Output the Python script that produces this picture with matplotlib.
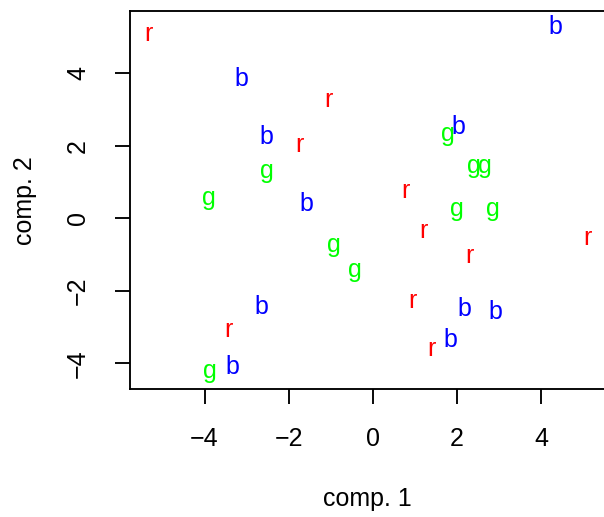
import matplotlib
matplotlib.use("Agg")
import matplotlib.pyplot as plt
import matplotlib.transforms as mtransforms

plt.rcParams['font.family'] = ['Liberation Sans', 'DejaVu Sans']

# data: label, x, y (centre of letter body)
r_x = [-5.33, -1.06, -1.74, 0.77, 1.19, 5.10, 2.30, 0.93, -3.44, 1.38]
r_y = [5.06, 3.25, 2.02, 0.73, -0.36, -0.56, -1.05, -2.29, -3.10, -3.62]
b_x = [4.34, -3.12, -2.52, 2.03, -1.58, -2.66, 2.17, 2.90, 1.83, -3.33]
b_y = [5.26, 3.83, 2.22, 2.50, 0.39, -2.46, -2.51, -2.60, -3.36, -4.12]
g_x = [-2.51, 1.79, 2.39, 2.65, -3.90, 1.99, 2.85, -0.93, -0.43, -3.87]
g_y = [1.29, 2.30, 1.42, 1.42, 0.55, 0.24, 0.24, -0.76, -1.43, -4.23]

groups = [("r", r_x, r_y, "#FF0000"),
          ("b", b_x, b_y, "#0000FF"),
          ("g", g_x, g_y, "#00FF00")]

xticks = [-4, -2, 0, 2, 4]
yticks = [-4, -2, 0, 2, 4]

W, H, DPI = 604, 517, 150
fig = plt.figure(figsize=(W / DPI, H / DPI), dpi=DPI)
ax = fig.add_axes([130 / W, 1 - 389.3 / H, 475.3 / W, (389.3 - 11) / H])
ax.set_xlim(-5.77, 5.52)
ax.set_ylim(-4.72, 5.72)

fs = 12
off = mtransforms.offset_copy(ax.transData, fig=fig, y=-0.26 * fs, units='points')
for lab, xs, ys, col in groups:
    for x, y in zip(xs, ys):
        ax.text(x, y, lab, color=col, fontsize=fs, ha='center', va='baseline',
                transform=off)

ax.set_xticks(xticks)
ax.set_yticks(yticks)
ax.set_xticklabels([str(t).replace('-', '\u2212') for t in xticks])
ax.set_yticklabels([str(t).replace('-', '\u2212') for t in yticks])
ax.tick_params(direction='out', length=7.2, width=0.9, labelsize=fs, colors='black')
ax.tick_params(axis='x', pad=11)
ax.tick_params(axis='y', pad=12, labelrotation=90)
for lbl in ax.get_yticklabels():
    lbl.set_va('center')
for s in ax.spines.values():
    s.set_linewidth(0.9)
    s.set_color('black')

ax.set_xlabel("comp. 1", fontsize=fs, labelpad=17)
ax.set_ylabel("comp. 2", fontsize=fs, labelpad=14)

fig.savefig("out.png", dpi=DPI)
